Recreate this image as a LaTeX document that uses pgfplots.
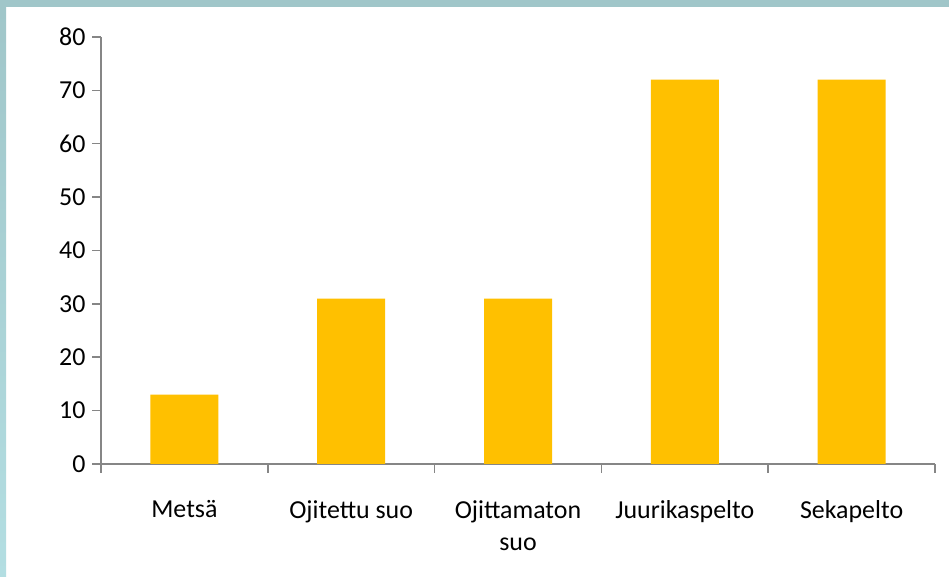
\documentclass[border=0pt]{standalone}
\usepackage{pgfplots}
\pgfplotsset{compat=1.18}
\usepackage{fontspec}
\setmainfont{Carlito}
\definecolor{barc}{HTML}{FFC000}
\definecolor{axc}{HTML}{868686}
\definecolor{frameA}{HTML}{A0C6C9}
\definecolor{frameB}{HTML}{B3DEE2}

\begin{document}
\begin{tikzpicture}[x=1bp,y=1bp]
% background and the teal frame strips
\fill[white] (0,0) rectangle (949,577);
\fill[frameA] (0,570) rectangle (949,577);
\shade[top color=frameA, bottom color=frameB] (0,0) rectangle (6,570);
\begin{axis}[
  at={(101bp,113bp)}, anchor=south west,
  scale only axis, width=834bp, height=427bp,
  xmin=-0.5, xmax=4.5, ymin=0, ymax=80,
  ytick={0,10,...,80},
  xtick={-0.5,0.5,1.5,2.5,3.5,4.5}, xticklabels={,,,,,},
  extra x ticks={0,1,2,3,4},
  extra x tick labels={Metsä,Ojitettu suo,{Ojittamaton\\suo},Juurikaspelto,Sekapelto},
  extra x tick style={major tick length=0pt},
  axis x line=bottom, axis y line=left,
  axis line style={axc, line width=1.5bp, -},
  tick style={axc, line width=1.5bp},
  tick align=outside, major tick length=9bp,
  /pgf/number format/assume math mode=true,
  tick label style={font=\fontsize{26}{32}\selectfont, black},
  xticklabel style={align=center, anchor=north, yshift=-33bp},
  yticklabel style={xshift=-3bp},
]
\addplot[ybar, fill=barc, draw=none, bar width=68bp]
  coordinates {(0,13) (1,31) (2,31) (3,72) (4,72)};
\end{axis}
\end{tikzpicture}
\end{document}
